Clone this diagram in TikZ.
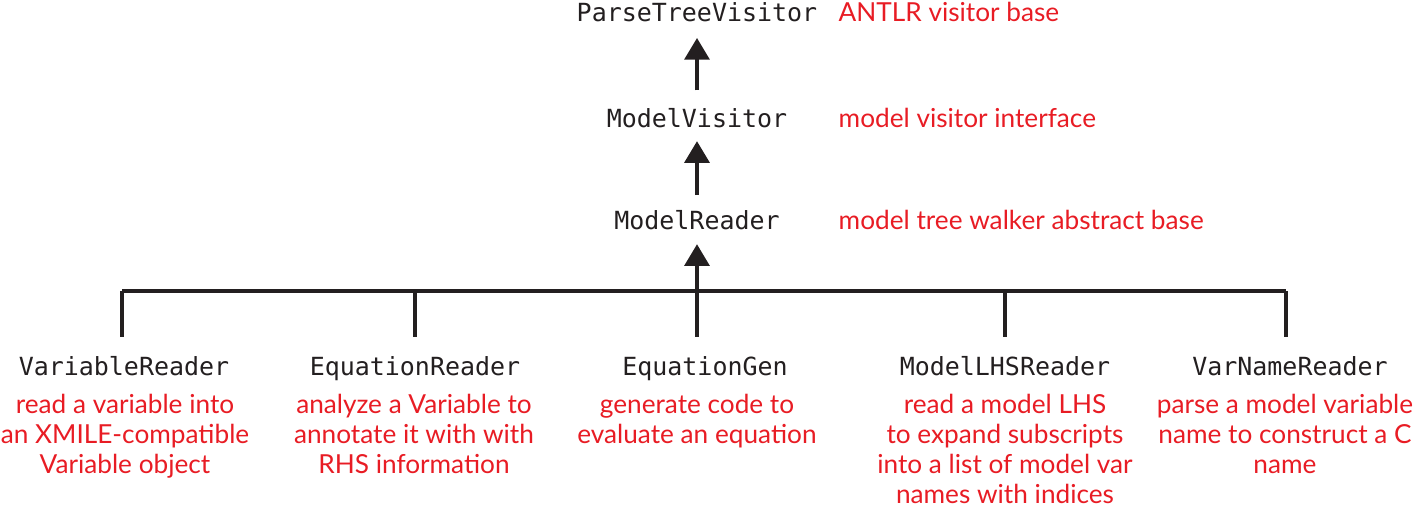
\documentclass[tikz,border=0pt]{standalone}
\usepackage{fontspec}
\setmainfont{Lato}
\setmonofont{DejaVu Sans Mono}
\usetikzlibrary{arrows.meta}
\definecolor{descred}{RGB}{232,28,36}
\definecolor{ink}{RGB}{35,31,32}
\begin{document}
\begin{tikzpicture}[x=0.01cm,y=-0.01cm,
  cls/.style={font=\fontsize{7.1pt}{8.5pt}\selectfont\ttfamily, text=ink, inner sep=0pt, anchor=base},
  desc/.style={font=\fontsize{7.45pt}{8.55pt}\selectfont, text=descred, inner sep=0pt, align=center},
  side/.style={font=\fontsize{7.45pt}{8.55pt}\selectfont, text=descred, inner sep=0pt, anchor=base west},
  conn/.style={draw=ink, line width=1.25pt},
  up/.style={conn, -{Triangle[width=7pt,length=6.2pt]}},
]
\useasboundingbox (0,0) rectangle (1417,511);
% parents
\node[cls] (ptv) at (697,21) {ParseTreeVisitor};
\node[side] (ptvd) at (838,21) {ANTLR visitor base};
\node[cls] (mv) at (697,127) {ModelVisitor};
\node[side] (mvd) at (838,127) {model visitor interface};
\node[cls] (mr) at (697,229) {ModelReader};
\node[side] (mrd) at (838,229) {model tree walker abstract base};
% children
\node[cls] (vr) at (124,375) {VariableReader};
\node[cls] (er) at (415,375) {EquationReader};
\node[cls] (eg) at (705,375) {EquationGen};
\node[cls] (ml) at (1005,375) {ModelLHSReader};
\node[cls] (vn) at (1290,375) {VarNameReader};
\node[desc, anchor=north] (vrd) at (125,393) {read a variable into\\an XMILE-compatible\\Variable object};
\node[desc, anchor=north] (erd) at (414,393) {analyze a Variable to\\annotate it with with\\RHS information};
\node[desc, anchor=north] (egd) at (697,393) {generate code to\\evaluate an equation};
\node[desc, anchor=north] (mld) at (1005,393) {read a model LHS\\to expand subscripts\\into a list of model var\\names with indices};
\node[desc, anchor=north] (vnd) at (1285,393) {parse a model variable\\name to construct a C\\name};
% tree coordinates
\coordinate (j) at (697,291);
\coordinate (b1) at (122,291);
\coordinate (b2) at (415,291);
\coordinate (b4) at (1005,291);
\coordinate (b5) at (1286,291);
\coordinate (e1) at (122,337);
\coordinate (e2) at (415,337);
\coordinate (e3) at (697,337);
\coordinate (e4) at (1005,337);
\coordinate (e5) at (1286,337);
% arrows
\draw[up, shorten <=4.8pt, shorten >=4.5pt] (mv.north) -- (ptv.south);
\draw[up, shorten <=4pt, shorten >=3.7pt] (mr.north) -- (mv.south);
\draw[up, shorten >=4pt] (j) -- (mr.south);
% bar and drops
\draw[conn] (b1) -- (b5);
\draw[conn] (b1) -- (e1);
\draw[conn] (b2) -- (e2);
\draw[conn] (j) -- (e3);
\draw[conn] (b4) -- (e4);
\draw[conn] (b5) -- (e5);
\end{tikzpicture}
\end{document}
